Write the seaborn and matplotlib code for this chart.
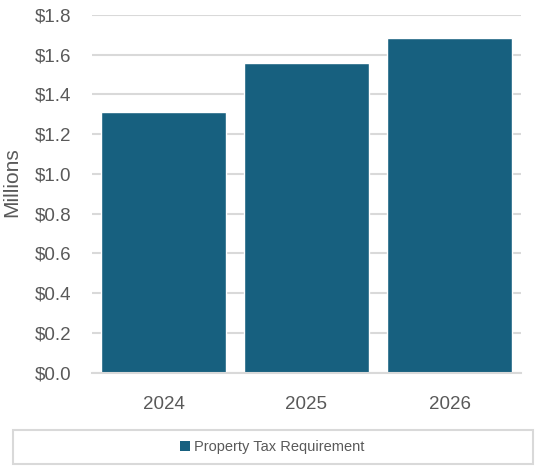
import matplotlib
matplotlib.use("Agg")
import matplotlib.pyplot as plt
import seaborn as sns
import pandas as pd
from matplotlib.ticker import FuncFormatter, MultipleLocator

# Property tax requirement by year, in millions of dollars
years = ["2024", "2025", "2026"]
requirement = [1.312, 1.560, 1.686]
series_name = "Property Tax Requirement"

df = pd.DataFrame({"year": years, "value": requirement, "series": series_name})

sns.set_theme(style="white")
plt.rcParams["font.family"] = ["Liberation Sans", "DejaVu Sans"]

bar_color = "#17607F"
text_color = "#595959"
grid_color = "#D9D9D9"

fig = plt.figure(figsize=(5.4, 4.66), dpi=100)
ax = fig.add_axes([92 / 540, 93.3 / 466, 429 / 540, 357.7 / 466])

sns.barplot(data=df, x="year", y="value", hue="series", palette=[bar_color],
            width=0.874, ax=ax, legend=False, saturation=1)

ax.set_ylim(0, 1.8)
ax.yaxis.set_major_locator(MultipleLocator(0.2))
ax.yaxis.set_major_formatter(FuncFormatter(lambda v, _: f"${v:.1f}"))
ax.set_axisbelow(True)
ax.yaxis.grid(True, color=grid_color, linewidth=1.5)
ax.xaxis.grid(False)
for side in ["top", "right", "left"]:
    ax.spines[side].set_visible(False)
ax.spines["bottom"].set_color(grid_color)
ax.spines["bottom"].set_linewidth(1.5)
ax.tick_params(axis="both", length=0, labelsize=13.5, labelcolor=text_color)
ax.tick_params(axis="y", pad=15)
ax.tick_params(axis="x", pad=17)
ax.set_xlabel("")
ax.set_ylabel("Millions", fontsize=15, color=text_color)
ax.yaxis.set_label_coords(-71 / 429, 0.532)

# Legend box spanning the width below the plot
box = plt.Rectangle((13 / 540, 2 / 466), 520 / 540, 34 / 466,
                    transform=fig.transFigure, facecolor="white",
                    edgecolor=grid_color, linewidth=1.5, zorder=0)
fig.patches.append(box)

handle = plt.Rectangle((0, 0), 1, 1, facecolor=bar_color, edgecolor="none")
leg = fig.legend([handle], [series_name],
                 bbox_to_anchor=(272 / 540, 19 / 466), loc="center",
                 frameon=False, fontsize=10.5,
                 handlelength=0.7, handleheight=0.7, handletextpad=0.3,
                 borderaxespad=0, borderpad=0)
for t in leg.get_texts():
    t.set_color(text_color)

fig.savefig("out.png", dpi=100)
